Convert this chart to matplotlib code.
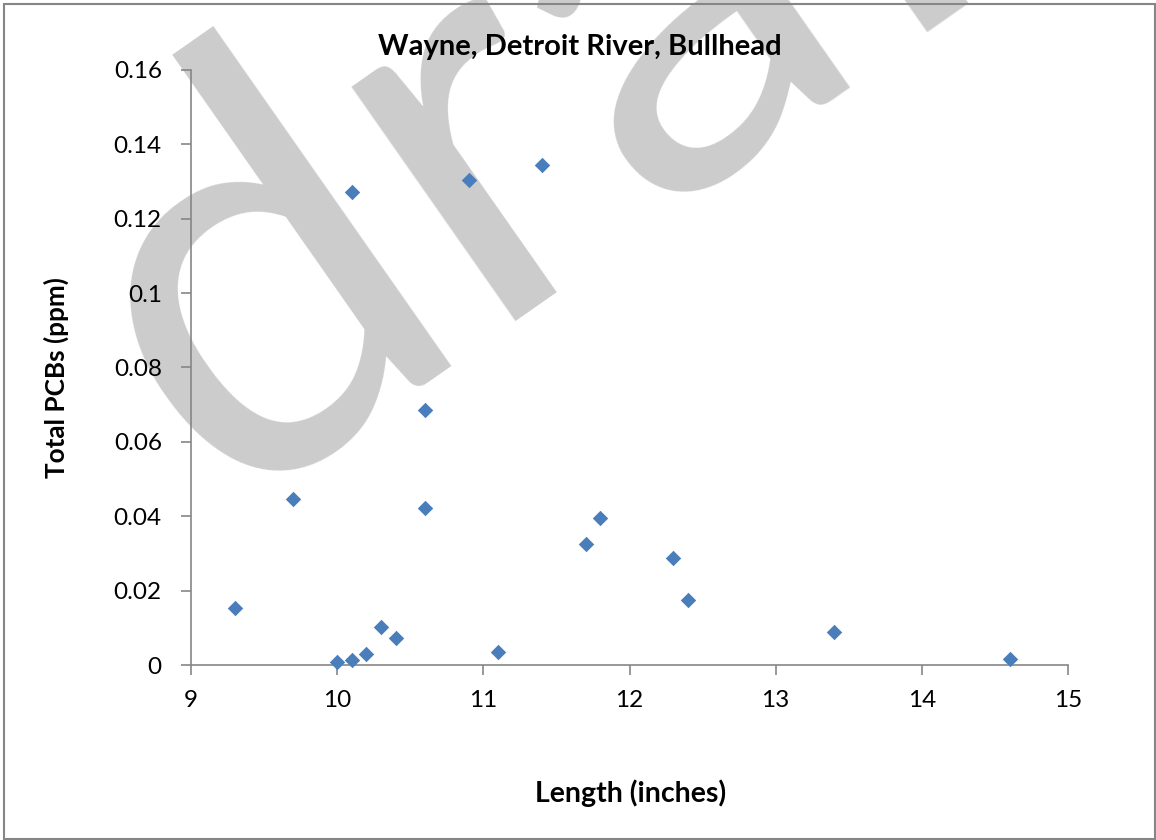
import matplotlib
matplotlib.use("Agg")
import matplotlib.pyplot as plt
from matplotlib.patches import Rectangle
from matplotlib.ticker import FuncFormatter

# 데이터 (길이 vs 총 PCB 농도)
length = [9.3, 9.7, 10.0, 10.1, 10.1, 10.2, 10.3, 10.4, 10.6, 10.6,
          10.9, 11.1, 11.4, 11.7, 11.8, 12.3, 12.4, 13.4, 14.6]
pcbs = [0.0153, 0.0447, 0.0009, 0.0013, 0.1271, 0.0030, 0.0103, 0.0072, 0.0685, 0.0422,
        0.1303, 0.0036, 0.1344, 0.0325, 0.0395, 0.0287, 0.0174, 0.0090, 0.0016]

x_ticks = [9, 10, 11, 12, 13, 14, 15]
y_ticks = [0, 0.02, 0.04, 0.06, 0.08, 0.1, 0.12, 0.14, 0.16]

title = "Wayne, Detroit River, Bullhead"
x_label = "Length (inches)"
y_label = "Total PCBs (ppm)"

plt.rcParams['font.family'] = ['Lato', 'DejaVu Sans']
W, H = 1156, 840
fig = plt.figure(figsize=(W / 100, H / 100), dpi=100)

# 워터마크 "draft"
fig.text(222 / W, 1 - 510 / H, "draft", fontsize=405, color='#cccccc',
         rotation=35, rotation_mode='anchor', ha='left', va='baseline', zorder=-1)

ax = fig.add_axes([191 / W, 1 - 665 / H, (1068 - 191) / W, (665 - 70) / H])
ax.set_facecolor('none')
ax.scatter(length, pcbs, marker='D', s=62, color='#4a7ebb', linewidths=0, zorder=3,
           clip_on=False)

ax.set_xlim(9, 15)
ax.set_ylim(0, 0.16)
ax.set_xticks(x_ticks)
ax.set_yticks(y_ticks)
ax.yaxis.set_major_formatter(FuncFormatter(lambda v, p: "0" if v == 0 else f"{v:g}"))

for s in ['top', 'right']:
    ax.spines[s].set_visible(False)
for s in ['left', 'bottom']:
    ax.spines[s].set_color('#868686')
    ax.spines[s].set_linewidth(1.2)
ax.tick_params(axis='both', direction='out', length=7, width=1.2, color='#868686',
               labelsize=17.5, labelcolor='black')
ax.tick_params(axis='x', pad=11)
ax.tick_params(axis='y', pad=14)

# 제목과 축 이름
fig.text(580 / W, 1 - 55 / H, title, fontsize=21, fontweight='bold', ha='center', va='baseline')
fig.text(631 / W, 1 - 802 / H, x_label, fontsize=20.5, fontweight='bold', ha='center', va='baseline')
fig.text(56 / W, 1 - 378 / H, y_label, fontsize=18.8, fontweight='bold', rotation=90,
         ha='center', va='center')

# 차트 테두리
fig.add_artist(Rectangle((4 / W, 1 / H), 1151 / W, 835 / H, transform=fig.transFigure,
                         fill=False, edgecolor='#868686', linewidth=1.5, zorder=10))

fig.savefig("out.png", dpi=100)
